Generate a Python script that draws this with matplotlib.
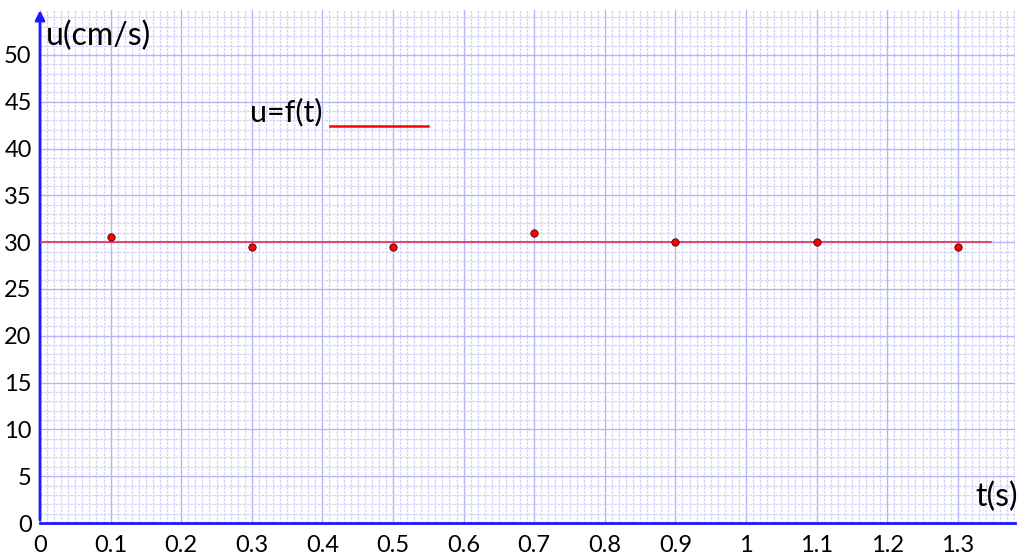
import numpy as np
import matplotlib.pyplot as plt
from matplotlib.ticker import MultipleLocator

t = [0.1, 0.3, 0.5, 0.7, 0.9, 1.1, 1.3]
u = [30.5, 29.5, 29.5, 31.0, 30.0, 30.0, 29.5]
fit_t = [0.0, 1.347]
fit_u = [30.0, 30.0]

xticks = [0, 0.1, 0.2, 0.3, 0.4, 0.5, 0.6, 0.7, 0.8, 0.9, 1.0, 1.1, 1.2, 1.3]
xlabels = ['0', '0.1', '0.2', '0.3', '0.4', '0.5', '0.6', '0.7', '0.8', '0.9', '1', '1.1', '1.2', '1.3']
yticks = [0, 5, 10, 15, 20, 25, 30, 35, 40, 45, 50]

plt.rcParams['font.family'] = ['Lato', 'DejaVu Sans']

fig = plt.figure(figsize=(10.19, 5.55), dpi=100)
ax = fig.add_axes([40 / 1019, 32 / 555, 975 / 1019, 513 / 555])

ax.set_xlim(0, 1.381)
ax.set_ylim(0, 54.8)

ax.set_xticks(xticks)
ax.set_xticklabels(xlabels)
ax.set_yticks(yticks)
ax.xaxis.set_minor_locator(MultipleLocator(0.01))
ax.yaxis.set_minor_locator(MultipleLocator(1))

ax.grid(which='major', color='#b4b4fa', lw=1.0)
ax.grid(which='minor', color='#cfcffa', lw=0.9, linestyle=(0, (2, 1)))
ax.set_axisbelow(True)

ax.tick_params(which='both', length=0, labelsize=17)
ax.tick_params(axis='y', pad=6)
ax.tick_params(axis='x', pad=9)

for s in ['top', 'right']:
    ax.spines[s].set_visible(False)
ax.spines['bottom'].set_color('#1a1aff')
ax.spines['bottom'].set_linewidth(2)
ax.spines['left'].set_visible(False)
ax.annotate('', xy=(0, 1.005), xytext=(0, 0), xycoords='axes fraction',
            arrowprops=dict(arrowstyle='-|>', color='#1a1aff', lw=2, mutation_scale=14),
            annotation_clip=False)

ax.plot(fit_t, fit_u, color='#e0305a', lw=1.2, zorder=3)
ax.scatter(t, u, s=28, color='red', edgecolor='#400000', linewidth=0.6, zorder=4)

ax.text(0.008, 52.0, 'u(cm/s)', fontsize=23, va='center', ha='left')
ax.text(1.385, 2.8, 't(s)', fontsize=23, va='center', ha='right')
ax.text(0.297, 43.9, 'u=f(t)', fontsize=22, va='center', ha='left')
ax.plot([0.411, 0.549], [42.4, 42.4], color='red', lw=1.8)

fig.savefig('out.png', dpi=100)
